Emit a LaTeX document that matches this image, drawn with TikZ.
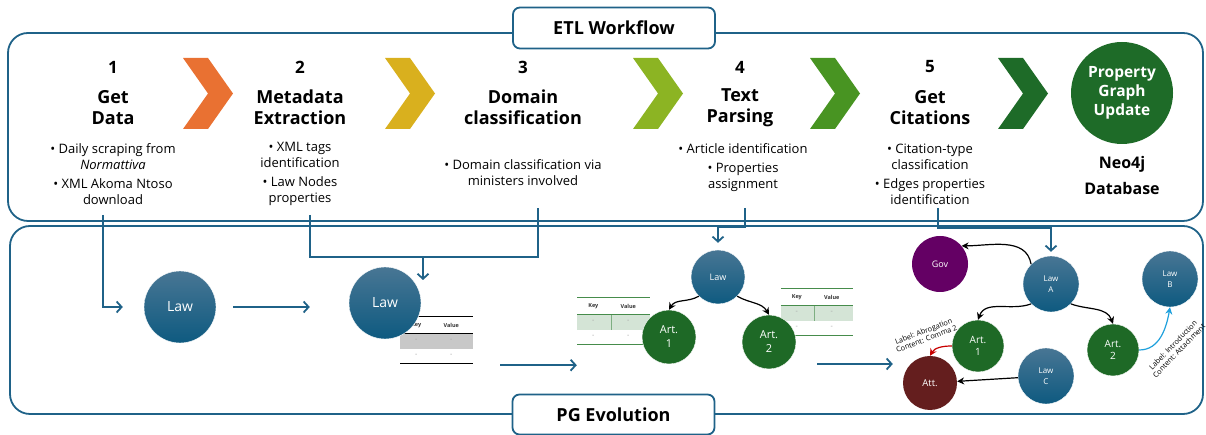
\documentclass[tikz,border=0pt]{standalone}
\usepackage{fontspec}
\setmainfont{Open Sans}
\usepackage{xcolor}
\usepackage{tikz}
\usetikzlibrary{arrows.meta, shapes.geometric}
\definecolor{frameblue}{RGB}{31,98,136}
\definecolor{chevA}{RGB}{233,113,50}
\definecolor{chevB}{RGB}{217,176,30}
\definecolor{chevC}{RGB}{140,180,35}
\definecolor{chevD}{RGB}{72,148,34}
\definecolor{chevE}{RGB}{30,107,40}
\definecolor{artgreen}{RGB}{30,105,38}
\definecolor{lawtop}{RGB}{72,118,148}
\definecolor{lawbot}{RGB}{14,90,128}
\definecolor{govpurple}{RGB}{100,0,100}
\definecolor{attred}{RGB}{100,30,30}
\definecolor{abrored}{RGB}{200,0,0}
\definecolor{introblue}{RGB}{30,160,220}
\definecolor{tabgreen}{RGB}{70,140,75}
\definecolor{tabfill}{RGB}{212,228,214}
\definecolor{tabgray}{RGB}{200,200,200}
\tikzstyle{section}=[draw=frameblue, line width=1.8pt, rounded corners=20pt]
\tikzstyle{tag}=[draw=frameblue, line width=1.8pt, fill=white, rounded corners=7pt, minimum width=202pt, minimum height=41pt, font=\fontsize{18}{20}\selectfont\bfseries]
\tikzstyle{stepnum}=[font=\fontsize{17}{20}\selectfont\bfseries]
\tikzstyle{steptitle}=[align=center, font=\fontsize{18}{21}\selectfont\bfseries]
\tikzstyle{bullets}=[align=center, font=\fontsize{13}{16}\selectfont]
\tikzstyle{link}=[draw=frameblue, line width=1.8pt]
\tikzstyle{flow}=[link, -{Straight Barb[length=5pt,width=11pt]}]
\tikzstyle{law}=[circle, inner sep=0pt, text=white, top color=lawtop, bottom color=lawbot, draw=white, line width=0.4pt, align=center]
\tikzstyle{art}=[circle, inner sep=0pt, text=white, fill=artgreen, draw=white, line width=0.4pt, align=center]
\tikzstyle{rel}=[-{Stealth[length=7pt,width=7pt]}, line width=1.2pt]
\tikzstyle{edgelabel}=[font=\fontsize{7.3}{8.3}\selectfont, align=center, inner sep=0pt]
\tikzstyle{kvbox}=[minimum width=72pt, minimum height=46pt, inner sep=0pt]
\tikzstyle{cellhead}=[font=\fontsize{5.5}{6}\selectfont\bfseries, text=black!80, inner sep=0pt]
\tikzstyle{cellval}=[font=\fontsize{7}{7}\selectfont, text=gray!70, inner sep=0pt]
% key/value table: name, centre, rule colour, row fill, divider colour
\newcommand{\kvtable}[5]{%
  \node[kvbox] (#1) at (#2) {};
  \fill[#4] ([yshift=-17pt]#1.north west) rectangle ([yshift=14pt]#1.south east);
  \draw[#5, line width=0.8pt] ([xshift=34pt,yshift=-17pt]#1.north west) -- ([xshift=34pt,yshift=14pt]#1.south west);
  \draw[#3, line width=1.2pt] (#1.north west) -- (#1.north east)
    ([yshift=-17pt]#1.north west) -- ([yshift=-17pt]#1.north east)
    (#1.south west) -- (#1.south east);
  \node[cellhead] (#1-key) at ([shift={(16pt,-8.5pt)}]#1.north west) {Key};
  \node[cellhead] (#1-value) at ([shift={(51pt,-8.5pt)}]#1.north west) {Value};
  \foreach \c in {16,51} \foreach \r in {24,39}
    \node[cellval] (#1-v\c\r) at ([shift={(\c pt,-\r pt)}]#1.north west) {-};
}

\begin{document}
\begin{tikzpicture}[x=1pt, y=1pt]
    \useasboundingbox (0,0) rectangle (1206,435);
    % frames
    \draw[section] (8,402) rectangle (1203,214);
    \draw[section] (10,209) rectangle (1203,21);
    % workflow steps
    \foreach \x/\c in {183/chevA, 385/chevB, 633/chevC, 810/chevD, 998/chevE}
        \fill[\c] (\x,377) -- ++(25,0) -- ++(25,-35.5) -- ++(-25,-35.5) -- ++(-25,0) -- ++(25,35.5) -- cycle;
    \foreach \x/\n/\t in {113/1/{Get\\Data}, 300/2/{Metadata\\Extraction}, 523/3/{Domain\\classification}, 740/4/{Text\\Parsing}, 930/5/{Get\\Citations}} {
        \node[stepnum] (num\n) at (\x,368) {\n};
        \node[steptitle] (title\n) at (\x,327.5) {\t};
    }
    \node[bullets] (info1) at (113,261) {• Daily scraping from\\\textit{Normattiva}\\[3pt]• XML Akoma Ntoso\\download};
    \node[bullets] (info2) at (300,261) {• XML tags\\identification\\[3pt]• Law Nodes\\properties};
    \node[bullets] (info3) at (523,262.5) {• Domain classification via\\ministers involved};
    \node[bullets] (info4) at (743,267) {• Article identification\\[3pt]• Properties\\assignment};
    \node[bullets] (info5) at (930,261) {• Citation-type\\classification\\[3pt]• Edges properties\\identification};
    \node[circle, fill=chevE, minimum size=102pt, inner sep=0pt, text=white, align=center, font=\fontsize{15.5}{19}\selectfont\bfseries] (pgu) at (1122,342) {Property\\Graph\\Update};
    \node[align=center, font=\fontsize{16}{19}\selectfont\bfseries] (neo) at (1122,259) {Neo4j\\[7pt]Database};
    \node[tag] (etl) at (614,407) {ETL Workflow};
    % PG evolution: stage 1 and 2
    \kvtable{tab1}{436.5,95}{black}{tabgray}{tabgray}
    \node[law, minimum size=72pt, font=\fontsize{14}{16}\selectfont] (law1) at (180,128) {Law};
    \node[law, minimum size=72pt, font=\fontsize{14}{16}\selectfont] (law2) at (385,132) {Law};
    % stage 3
    \kvtable{tab2}{613.5,114}{tabgreen}{tabfill}{tabgreen!70}
    \kvtable{tab3}{817,123}{tabgreen}{tabfill}{tabgreen!70}
    \node[law, minimum size=54pt, font=\fontsize{9}{11}\selectfont] (tlaw) at (718,158) {Law};
    \node[art, minimum size=54pt, font=\fontsize{11}{14}\selectfont] (tart1) at (669,98) {Art.\\1};
    \node[art, minimum size=54pt, font=\fontsize{11}{14}\selectfont] (tart2) at (769,93) {Art.\\2};
    \draw[rel] (tlaw.225) to[out=210,in=60] (tart1.north);
    \draw[rel] (tlaw.315) to[out=-30,in=120] (tart2.north);
    % stage 4
    \node[circle, fill=govpurple, minimum size=56pt, text=white, font=\fontsize{9}{11}\selectfont] (gov) at (940,171) {Gov};
    \node[law, minimum size=56pt, font=\fontsize{8}{10.5}\selectfont] (lawA) at (1051,151) {Law\\A};
    \node[law, minimum size=56pt, font=\fontsize{8}{10.5}\selectfont] (lawB) at (1170,156) {Law\\B};
    \node[art, minimum size=52pt, font=\fontsize{10}{12}\selectfont] (art1b) at (978,89) {Art.\\1};
    \node[art, minimum size=52pt, font=\fontsize{10}{12}\selectfont] (art2b) at (1113,85) {Art.\\2};
    \node[law, minimum size=56pt, font=\fontsize{8}{10.5}\selectfont] (lawC) at (1046,59) {Law\\C};
    \node[circle, fill=attred, minimum size=54pt, text=white, font=\fontsize{9.5}{11}\selectfont] (att) at (930,52) {Att.};
    \draw[rel] (lawA.135) to[out=100,in=0] (gov.40);
    \draw[rel] (lawA.225) to[out=200,in=70] (art1b.north);
    \draw[rel] (lawA.315) to[out=-20,in=110] (art2b.north);
    \draw[rel] (lawC) -- (att);
    \draw[rel, abrored] (art1b.west) to[out=180,in=60] (att.north);
    \draw[rel, introblue] (art2b.east) to[out=0,in=-100] (lawB.south);
    \node[edgelabel, rotate=21] (lblab) at (925,100) {Label: Abrogation\\Content: Comma 2};
    \node[edgelabel, rotate=46] (lblin) at (1176,87) {Label: Introduction\\Content: Attachment};
    % connectors
    \coordinate (drop1) at (103,220);
    \coordinate (drop2) at (310,220);
    \coordinate (drop3) at (538,227);
    \coordinate (join) at (423,178);
    \coordinate (drop4) at (745,227);
    \coordinate (drop5) at (938,227);
    \draw[flow, shorten >=21pt] (drop1) |- (law1.west);
    \draw[flow, shorten <=17pt, shorten >=39pt] (law1.east) -- (law1.east -| law2.west);
    \draw[link] (drop2) |- (join) -| (drop3);
    \draw[flow] (join) -- ++(0,-23);
    \draw[flow, shorten >=7pt] (drop4) -- ++(0,-19) -| (tlaw.north);
    \draw[flow, shorten >=4pt] (drop5) -- ++(0,-20) -| (lawA.north);
    \draw[flow] ([shift={(27.5pt,-2pt)}]tab1.south east) -- ([shift={(-0.5pt,-21pt)}]tab2.south west);
    \draw[flow] ([shift={(21pt,-22pt)}]tart2.east) -- ([shift={(-10pt,19pt)}]att.west);
    \node[tag, minimum height=40pt] (pg) at (613.5,20.5) {PG Evolution};
\end{tikzpicture}
\end{document}
